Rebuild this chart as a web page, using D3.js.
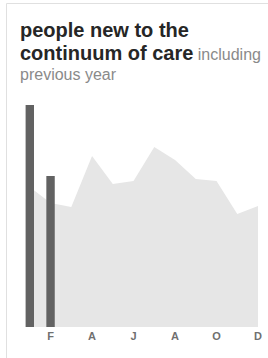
<!doctype html>
<html>
  <head>
    <meta charset="utf-8">
    <title>people new to the continuum of care</title>
    <style>
    body {
      margin: 0;
      background-color: #fff;
      font-family: 'Liberation Sans', Arial, sans-serif;
    }
    svg { display: block; }
    </style>
    <script src="https://cdnjs.cloudflare.com/ajax/libs/d3/7.8.5/d3.min.js"></script>
  </head>
  <body>
    <div id="chart"></div>
    <script>

      // months of the year, only some get a label
      const months = ['Jan', 'Feb', 'Mar', 'Apr', 'May', 'Jun', 'Jul', 'Aug', 'Sep', 'Oct', 'Nov', 'Dec'];
      const tickMonths = ['Feb', 'Apr', 'Jun', 'Aug', 'Oct', 'Dec'];
      const tickLabels = ['F', 'A', 'J', 'A', 'O', 'D'];

      // this year so far (bars) and the previous year (area)
      const currentMonths = ['Jan', 'Feb'];
      const currentValues = [222, 151];
      const previousValues = [140, 124, 120, 171, 143, 146, 180, 167, 148, 146, 113, 121];

      const width = 268, height = 358;

      const svg = d3.select('#chart')
        .append('svg')
        .attr('width', width)
        .attr('height', height);

      // card border, top and left only
      svg.append('path')
        .attr('d', 'M6.5,358V3.5H268')
        .attr('fill', 'none')
        .attr('stroke', '#e0e0e0');

      // title
      const title = svg.append('text')
        .attr('x', 20)
        .attr('y', 37)
        .style('font-size', '20px')
        .style('font-weight', 'bold')
        .style('fill', '#262626');
      title.append('tspan').text('people new to the');
      title.append('tspan').attr('x', 20).attr('dy', 23).text('continuum of care');
      title.append('tspan')
        .text(' including')
        .style('font-weight', 'normal')
        .style('font-size', '16px')
        .style('fill', '#8a8a8a');
      title.append('tspan')
        .attr('x', 20).attr('dy', 20)
        .text('previous year')
        .style('font-weight', 'normal')
        .style('font-size', '16px')
        .style('fill', '#8a8a8a');

      // scales
      const x = d3.scaleLinear().domain([0, 11]).range([29.8, 258]);
      const y = d3.scaleLinear().domain([0, 250]).range([327, 77]);
      const monthX = m => x(months.indexOf(m));

      // previous year as a grey area
      const area = d3.area()
        .x((d, i) => x(i))
        .y0(y(0))
        .y1(d => y(d));

      svg.append('path')
        .datum(previousValues)
        .attr('d', area)
        .attr('fill', '#e6e6e6');

      // current year bars
      const barW = 8.4;
      svg.selectAll('rect.bar')
        .data(currentValues)
        .join('rect')
        .attr('class', 'bar')
        .attr('x', (d, i) => monthX(currentMonths[i]) - barW / 2)
        .attr('width', barW)
        .attr('y', d => y(d))
        .attr('height', d => y(0) - y(d))
        .attr('fill', '#626262');

      // month labels
      svg.selectAll('text.tick')
        .data(tickMonths)
        .join('text')
        .attr('class', 'tick')
        .attr('x', d => monthX(d))
        .attr('y', 340)
        .attr('text-anchor', 'middle')
        .style('font-size', '11px')
        .style('font-weight', 'bold')
        .style('fill', '#707070')
        .text((d, i) => tickLabels[i]);

    </script>
  </body>
</html>
